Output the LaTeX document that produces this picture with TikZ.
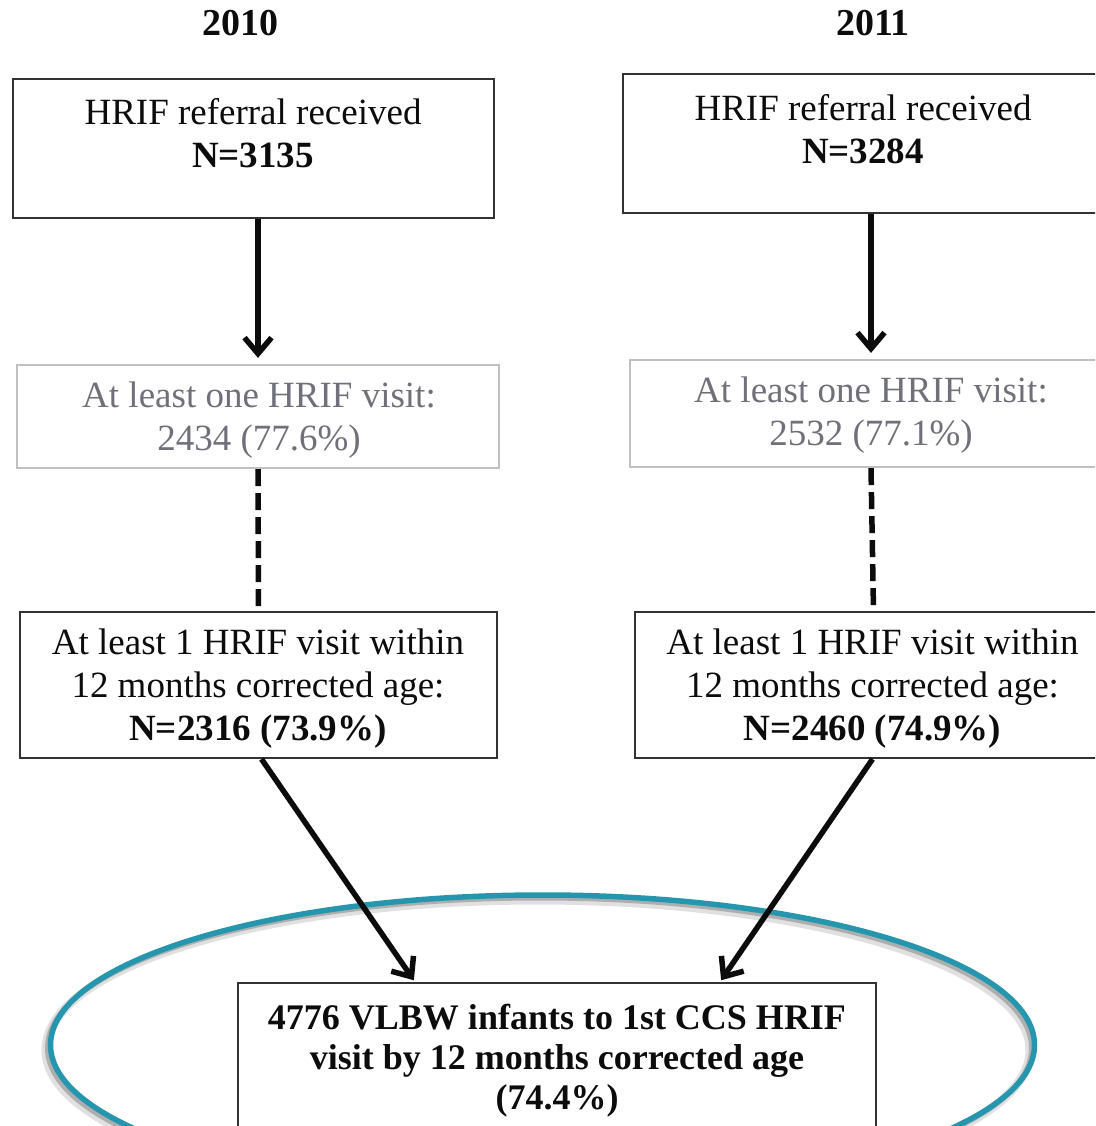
\documentclass[tikz,border=0pt]{standalone}
\usepackage{fontspec}
\setmainfont{Liberation Serif}
\usetikzlibrary{arrows.meta,calc}
\definecolor{ink}{RGB}{12,12,12}
\definecolor{boxline}{RGB}{50,50,50}
\definecolor{lightline}{RGB}{192,192,192}
\definecolor{graytxt}{RGB}{112,112,122}
\definecolor{teal}{RGB}{38,150,174}
\tikzset{
  box/.style={draw=boxline, line width=2.2pt, inner sep=0pt, fill=white},
  lbox/.style={draw=lightline, line width=2.2pt, inner sep=0pt, fill=white},
  txt/.style={align=center, inner sep=0pt, text=ink, font=\fontsize{37}{43}\selectfont},
  gtxt/.style={txt, text=graytxt},
  btxt/.style={align=center, inner sep=0pt, text=ink, font=\fontsize{36}{40}\selectfont\bfseries},
  yeartxt/.style={inner sep=0pt, text=ink, font=\fontsize{38}{44}\selectfont\bfseries},
  arr/.style={draw=ink, line width=5.5pt, -{Straight Barb[length=16pt,width=27pt]}},
  dashline/.style={draw=ink, line width=5.5pt, dash pattern=on 17pt off 7pt},
  ring/.style={draw=teal, line width=5.5pt},
  ringshadow/.style={draw=black, line width=9pt, opacity=0.12},
  ringshadowcore/.style={draw=black, line width=5pt, opacity=0.22},
}
\begin{document}
\begin{tikzpicture}[x=1pt,y=-1pt]
\useasboundingbox (0,0) rectangle (1095,1126);
\clip (0,0) rectangle (1095,1126);
\fill[white] (0,0) rectangle (1095,1126);

% years
\node[yeartxt] (y1) at (240,23.5) {2010};
\node[yeartxt] (y2) at (873,23.5) {2011};

% boxes
\node[box, minimum width=481pt, minimum height=139pt] (a1) at (253.5,148.5) {};
\node[box, minimum width=477pt, minimum height=139pt] (b1) at (861.5,143.5) {};
\node[lbox, minimum width=482pt, minimum height=103pt] (a2) at (258,416.5) {};
\node[lbox, minimum width=482pt, minimum height=107pt] (b2) at (871,413.5) {};
\node[box, minimum width=477pt, minimum height=146pt] (a3) at (258.5,685) {};
\node[box, minimum width=477pt, minimum height=146pt] (b3) at (873.5,685) {};

% ellipse with shadow
\draw[ringshadow] (538,1050) ellipse [x radius=492, y radius=150];
\draw[ringshadowcore] (539.5,1048) ellipse [x radius=492, y radius=150];
\draw[ring] (542.5,1045) ellipse [x radius=492, y radius=150];

\node[box, minimum width=638pt, minimum height=157pt] (c) at (557,1061.5) {};

% texts
\node[txt] (ta1) at (253,133) {HRIF referral received\\\textbf{N=3135}};
\node[txt] (tb1) at (863,129) {HRIF referral received\\\textbf{N=3284}};
\node[gtxt] (ta2) at (259,420.5) {At least one HRIF visit:\\2434 (77.6\%)};
\node[gtxt] (tb2) at (871,415.5) {At least one HRIF visit:\\2532 (77.1\%)};
\node[txt] (ta3) at (258,688.5) {At least 1 HRIF visit within\\12 months corrected age:\\\textbf{N=2316 (73.9\%)}};
\node[txt] (tb3) at (872.5,688.5) {At least 1 HRIF visit within\\12 months corrected age:\\\textbf{N=2460 (74.9\%)}};
\node[btxt] (tc) at (557,1061) {4776 VLBW infants to 1st CCS HRIF\\visit by 12 months corrected age\\(74.4\%)};

% connectors
\draw[arr, shorten >=6pt] (a1.south -| a2.north) -- (a2.north);
\draw[arr, shorten >=6pt] (b1.south -| b2.north) -- (b2.north);
\draw[dashline] (a2.south) -- (a3.north);
\draw[dashline] (b2.south) -- (b3.north);
\draw[arr, shorten >=2pt] ($(a3.south)+(3,0)$) -- ($(c.north)+(-142,0)$);
\draw[arr, shorten >=2pt] ($(b3.south)+(-1,0)$) -- ($(c.north)+(163,0)$);
\end{tikzpicture}
\end{document}
